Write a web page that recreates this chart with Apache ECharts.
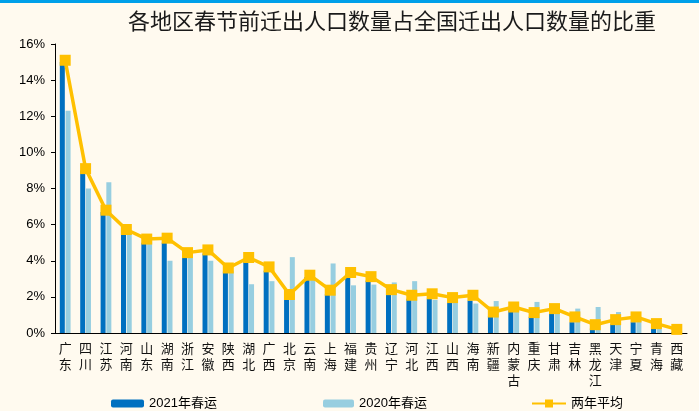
<!DOCTYPE html>
<html>
<head>
<meta charset="utf-8">
<script src="https://cdn.jsdelivr.net/npm/echarts@6/dist/echarts.min.js"></script>
<style>
html, body { margin: 0; padding: 0; background: #fffaef; }
#chart { width: 699px; height: 411px; }
</style>
</head>
<body>
<div id="chart"></div>
<script>
var provinces = ['广东','四川','江苏','河南','山东','湖南','浙江','安徽','陕西','湖北','广西','北京','云南','上海','福建','贵州','辽宁','河北','江西','山西','海南','新疆','内蒙古','重庆','甘肃','吉林','黑龙江','天津','宁夏','青海','西藏'];
var spring2021 = [15.0, 9.0, 6.7, 5.6, 5.0, 5.0, 4.3, 4.4, 3.4, 3.95, 3.45, 2.1, 3.1, 2.15, 3.25, 2.9, 2.15, 1.9, 1.9, 1.7, 1.8, 0.95, 1.25, 0.9, 1.15, 0.6, 0.25, 0.5, 0.6, 0.35, 0.05];
var spring2020 = [12.3, 8.0, 8.35, 5.6, 5.1, 4.0, 4.2, 4.0, 3.45, 2.7, 2.87, 4.2, 3.0, 3.85, 2.64, 2.68, 2.8, 2.87, 1.83, 1.82, 1.63, 1.77, 1.27, 1.72, 1.33, 1.35, 1.44, 1.16, 0.75, 0.35, 0.1];
var twoYearAvg = [15.1, 9.1, 6.8, 5.73, 5.2, 5.25, 4.45, 4.6, 3.6, 4.18, 3.66, 2.13, 3.2, 2.37, 3.35, 3.12, 2.4, 2.09, 2.17, 1.96, 2.09, 1.16, 1.44, 1.13, 1.35, 0.89, 0.46, 0.74, 0.89, 0.52, 0.2];

var cjk = 'Noto Sans CJK SC';
var latin = 'Liberation Sans, Noto Sans CJK SC';

var myChart = echarts.init(document.getElementById('chart'));
var legendText = { color: '#000', fontSize: 13, fontFamily: latin };
var option = {
	backgroundColor: '#fffaef',
	animation: false,
	title: {
		text: '各地区春节前迁出人口数量占全国迁出人口数量的比重',
		left: 387,
		top: 5,
		textAlign: 'center',
		textStyle: { fontFamily: cjk, fontWeight: 'normal', fontSize: 22, color: '#1a1a1a' }
	},
	graphic: [{
		type: 'rect',
		shape: { x: 0, y: 0, width: 699, height: 3 },
		style: { fill: '#00a0e9' }
	}],
	legend: [
		{ data: ['2021年春运'], left: 106, top: 392, itemWidth: 33, itemHeight: 8, itemGap: 4, textStyle: legendText },
		{ data: ['2020年春运'], left: 318, top: 392, itemWidth: 31, itemHeight: 8, textStyle: legendText },
		{ data: ['两年平均'], left: 526, top: 392, itemWidth: 34, itemHeight: 10, textStyle: legendText }
	],
	grid: { left: 55, right: 12, top: 44, bottom: 78 },
	xAxis: {
		type: 'category',
		data: provinces,
		axisLine: { lineStyle: { color: '#000', width: 1 } },
		axisTick: { length: 4, lineStyle: { color: '#000' } },
		axisLabel: {
			interval: 0,
			color: '#111',
			fontFamily: cjk,
			fontSize: 13,
			lineHeight: 16,
			margin: 7,
			formatter: function (v) { return v.split('').join('\n'); }
		}
	},
	yAxis: {
		type: 'value',
		min: 0,
		max: 16,
		interval: 2,
		splitLine: { show: false },
		axisLine: { show: true, lineStyle: { color: '#000' } },
		axisTick: { show: true, length: 4, lineStyle: { color: '#000' } },
		axisLabel: { formatter: '{value}%', color: '#000', fontFamily: latin, fontSize: 13, margin: 10 }
	},
	series: [{
		name: '2021年春运',
		type: 'bar',
		barWidth: 5,
		barGap: '15%',
		itemStyle: { color: '#0070c0' },
		data: spring2021
	}, {
		name: '2020年春运',
		type: 'bar',
		barWidth: 5,
		itemStyle: { color: '#97cee0' },
		data: spring2020
	}, {
		name: '两年平均',
		type: 'line',
		symbol: 'rect',
		symbolSize: 11,
		z: 5,
		lineStyle: { color: '#ffc000', width: 3.5 },
		itemStyle: { color: '#ffc000' },
		data: twoYearAvg
	}]
};
myChart.setOption(option);
</script>
</body>
</html>
